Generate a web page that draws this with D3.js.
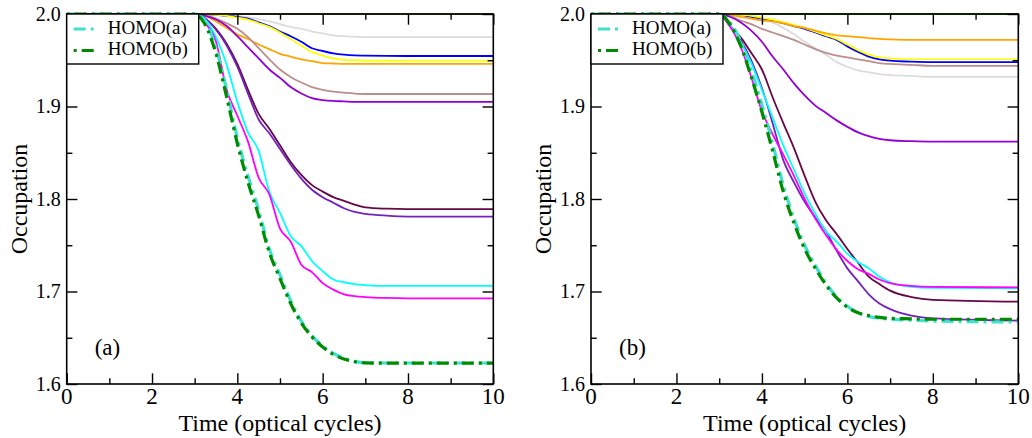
<!DOCTYPE html>
<html>
<head>
<meta charset="utf-8">
<script src="https://cdn.jsdelivr.net/npm/d3@7"></script>
<style>
  body { margin: 0; background: #fff; }
  svg { display: block; }
</style>
</head>
<body>
<svg id="chart" width="1032" height="438" font-family="'Liberation Serif', 'Times New Roman', Times, 'DejaVu Serif', serif"></svg>
<script>
// Sampling times (optical cycles) shared by every occupation curve
const time = [0, 3, 3.25, 3.5, 3.75, 4, 4.25, 4.5, 4.75, 5, 5.25, 5.5, 5.75, 6, 6.25, 6.5, 6.75, 7, 7.5, 8, 10];

const xTicks = [0, 2, 4, 6, 8, 10];
const xMinor = [1, 3, 5, 7, 9];
const yTicks = [1.6, 1.7, 1.8, 1.9, 2.0];
const yMinor = [1.65, 1.75, 1.85, 1.95];

// ---- panel (a) ----
const aCore    = [2, 2, 2, 2, 2, 2, 2, 2, 2, 2, 2, 2, 2, 2, 2, 2, 2, 2, 2, 2, 2];
const aGrey    = [2, 2, 2.0, 1.9995, 1.999, 1.998, 1.9965, 1.9945, 1.992, 1.989, 1.986, 1.984, 1.981, 1.979, 1.977, 1.976, 1.9755, 1.975, 1.975, 1.975, 1.975];
const aBlue    = [2, 2, 2.0, 1.999, 1.998, 1.997, 1.995, 1.991, 1.987, 1.981, 1.976, 1.970, 1.963, 1.960, 1.9575, 1.956, 1.9552, 1.955, 1.9547, 1.9546, 1.9546];
const aYellow  = [2, 2, 2.0, 1.999, 1.998, 1.996, 1.994, 1.990, 1.986, 1.980, 1.973, 1.966, 1.959, 1.955, 1.952, 1.9505, 1.950, 1.9497, 1.9495, 1.9495, 1.9495];
const aOrange  = [2, 2, 1.998, 1.992, 1.985, 1.978, 1.973, 1.967, 1.962, 1.957, 1.954, 1.951, 1.949, 1.947, 1.9465, 1.946, 1.946, 1.946, 1.946, 1.946, 1.946];
const aBrown   = [2, 2, 1.999, 1.995, 1.990, 1.984, 1.975, 1.963, 1.951, 1.940, 1.932, 1.926, 1.921, 1.918, 1.916, 1.915, 1.914, 1.9135, 1.9135, 1.9135, 1.9135];
const aViolet  = [2, 2, 1.998, 1.994, 1.987, 1.976, 1.964, 1.952, 1.940, 1.931, 1.921, 1.914, 1.909, 1.907, 1.906, 1.9055, 1.905, 1.905, 1.905, 1.905, 1.905];
const aMaroon  = [2, 2, 1.995, 1.984, 1.968, 1.946, 1.918, 1.892, 1.876, 1.858, 1.840, 1.826, 1.815, 1.808, 1.802, 1.798, 1.794, 1.791, 1.7895, 1.789, 1.789];
const aIndigo  = [2, 2, 1.995, 1.983, 1.966, 1.943, 1.914, 1.886, 1.871, 1.854, 1.837, 1.822, 1.810, 1.802, 1.796, 1.790, 1.786, 1.784, 1.782, 1.781, 1.781];
const aCyan    = [2, 2, 1.994, 1.975, 1.945, 1.905, 1.872, 1.852, 1.808, 1.785, 1.760, 1.749, 1.733, 1.722, 1.713, 1.710, 1.708, 1.707, 1.706, 1.706, 1.706];
const aMagenta = [2, 2, 1.990, 1.970, 1.918, 1.890, 1.862, 1.823, 1.805, 1.768, 1.754, 1.729, 1.721, 1.709, 1.702, 1.697, 1.695, 1.694, 1.693, 1.6926, 1.6926];
const aHomoA   = [2, 2, 1.992, 1.963, 1.918, 1.866, 1.825, 1.788, 1.746, 1.718, 1.690, 1.668, 1.652, 1.641, 1.633, 1.628, 1.6245, 1.623, 1.6227, 1.6227, 1.6227];
const aHomoB   = [2, 2, 1.988, 1.957, 1.910, 1.860, 1.818, 1.782, 1.742, 1.714, 1.687, 1.666, 1.651, 1.640, 1.632, 1.627, 1.624, 1.6228, 1.6225, 1.6225, 1.6225];

// ---- panel (b) ----
const bCore    = [2, 2, 2, 2, 2, 2, 2, 2, 2, 2, 2, 2, 2, 2, 2, 2, 2, 2, 2, 2, 2];
const bGrey    = [2, 2, 2.0, 1.999, 1.998, 1.996, 1.991, 1.985, 1.978, 1.970, 1.963, 1.956, 1.948, 1.943, 1.939, 1.937, 1.935, 1.934, 1.933, 1.932, 1.932];
const bBlue    = [2, 2, 2.0, 1.999, 1.997, 1.995, 1.993, 1.990, 1.987, 1.984, 1.980, 1.976, 1.972, 1.965, 1.959, 1.954, 1.951, 1.9495, 1.9485, 1.948, 1.948];
const bYellow  = [2, 2, 2.0, 1.999, 1.998, 1.996, 1.994, 1.991, 1.988, 1.985, 1.981, 1.977, 1.973, 1.967, 1.961, 1.956, 1.953, 1.952, 1.951, 1.951, 1.951];
const bOrange  = [2, 2, 1.999, 1.997, 1.995, 1.993, 1.992, 1.990, 1.987, 1.985, 1.982, 1.979, 1.977, 1.976, 1.975, 1.974, 1.973, 1.9725, 1.972, 1.972, 1.972];
const bBrown   = [2, 2, 1.998, 1.993, 1.989, 1.984, 1.980, 1.976, 1.972, 1.967, 1.962, 1.958, 1.955, 1.953, 1.951, 1.949, 1.947, 1.946, 1.945, 1.944, 1.944];
const bViolet  = [2, 2, 1.997, 1.991, 1.982, 1.970, 1.954, 1.940, 1.925, 1.912, 1.901, 1.893, 1.885, 1.878, 1.872, 1.868, 1.865, 1.8635, 1.8625, 1.862, 1.862];
const bMaroon  = [2, 2, 1.987, 1.975, 1.958, 1.940, 1.910, 1.882, 1.855, 1.825, 1.797, 1.777, 1.762, 1.746, 1.731, 1.716, 1.708, 1.701, 1.694, 1.691, 1.689];
const bIndigo  = [2, 2, 1.988, 1.972, 1.950, 1.920, 1.882, 1.842, 1.818, 1.797, 1.780, 1.765, 1.744, 1.725, 1.711, 1.697, 1.687, 1.681, 1.674, 1.671, 1.6685];
const bCyan    = [2, 2, 1.988, 1.970, 1.947, 1.918, 1.888, 1.858, 1.832, 1.806, 1.784, 1.765, 1.754, 1.741, 1.732, 1.725, 1.716, 1.710, 1.705, 1.704, 1.7035];
const bMagenta = [2, 2, 1.987, 1.965, 1.932, 1.895, 1.870, 1.848, 1.825, 1.800, 1.779, 1.761, 1.745, 1.733, 1.724, 1.719, 1.713, 1.709, 1.706, 1.705, 1.7045];
const bHomoA   = [2, 2, 1.991, 1.971, 1.939, 1.902, 1.860, 1.815, 1.779, 1.750, 1.728, 1.709, 1.694, 1.684, 1.677, 1.673, 1.671, 1.670, 1.669, 1.668, 1.667];
const bHomoB   = [2, 2, 1.989, 1.966, 1.932, 1.894, 1.852, 1.808, 1.774, 1.746, 1.725, 1.707, 1.693, 1.683, 1.677, 1.674, 1.672, 1.671, 1.6705, 1.670, 1.670];

const legendNames = ["HOMO(a)", "HOMO(b)"];

// Line styles (xmgrace palette)
const styles = {
  core:    { color: "#3f9a10", width: 2 },
  grey:    { color: "#dcdcdc", width: 1.8 },
  blue:    { color: "#0000ff", width: 1.8 },
  yellow:  { color: "#ffff00", width: 1.8 },
  orange:  { color: "#ffa500", width: 1.8 },
  brown:   { color: "#bc8f8f", width: 1.8 },
  violet:  { color: "#9400d3", width: 1.8 },
  maroon:  { color: "#670748", width: 1.8 },
  indigo:  { color: "#7221bc", width: 1.8 },
  cyan:    { color: "#00ffff", width: 1.8 },
  magenta: { color: "#ff00ff", width: 1.8 },
  homoA:   { color: "#40e0d0", width: 3.2, dash: "12,5,3,5" },
  homoB:   { color: "#008b00", width: 3.2, dash: "3,5,12,5" }
};

const panels = [
  { id: "a", label: "(a)", x0: 66.7, x1: 493.3, yTitleX: 27, coreColor: "#7b8d2c",
    series: { core: aCore, grey: aGrey, blue: aBlue, yellow: aYellow, orange: aOrange, brown: aBrown,
              violet: aViolet, maroon: aMaroon, indigo: aIndigo, cyan: aCyan, magenta: aMagenta,
              homoA: aHomoA, homoB: aHomoB } },
  { id: "b", label: "(b)", x0: 591, x1: 1018.3, yTitleX: 551, coreColor: "#3f9a10",
    series: { core: bCore, grey: bGrey, blue: bBlue, yellow: bYellow, orange: bOrange, brown: bBrown,
              violet: bViolet, maroon: bMaroon, indigo: bIndigo, cyan: bCyan, magenta: bMagenta,
              homoA: bHomoA, homoB: bHomoB } }
];

const yTop = 14, yBottom = 384;
const svg = d3.select("#chart");

panels.forEach(p => {
  const x = d3.scaleLinear().domain([0, 10]).range([p.x0, p.x1]);
  const y = d3.scaleLinear().domain([1.6, 2.0]).range([yBottom, yTop]);
  const g = svg.append("g").attr("class", "panel-" + p.id);

  const clipId = "clip-" + p.id;
  g.append("clipPath").attr("id", clipId).append("rect")
    .attr("x", p.x0).attr("y", yTop - 2).attr("width", p.x1 - p.x0).attr("height", yBottom - yTop + 2);

  const line = d3.line()
    .x((d, i) => x(time[i]))
    .y(d => y(d))
    .curve(d3.curveMonotoneX);

  const plot = g.append("g").attr("clip-path", `url(#${clipId})`);
  Object.keys(p.series).forEach(key => {
    const s = styles[key];
    plot.append("path")
      .datum(p.series[key])
      .attr("d", line)
      .attr("fill", "none")
      .attr("stroke", key === "core" ? p.coreColor : s.color)
      .attr("stroke-width", s.width)
      .attr("stroke-dasharray", s.dash || null)
      .attr("stroke-linejoin", "round");
  });

  // ticks on all four sides, pointing inward
  const major = 10.7, minor = 5.7;
  const tickAxis = (axisFn, scale, values, size, transform) => {
    const a = g.append("g").attr("transform", transform)
      .call(axisFn(scale).tickValues(values).tickSize(size).tickFormat(""));
    a.select(".domain").remove();
    a.selectAll("line").attr("stroke", "#000").attr("stroke-width", 1.4);
  };
  tickAxis(d3.axisBottom, x, xTicks, -major, `translate(0,${yBottom})`);
  tickAxis(d3.axisBottom, x, xMinor, -minor, `translate(0,${yBottom})`);
  tickAxis(d3.axisTop, x, xTicks, -major, `translate(0,${yTop})`);
  tickAxis(d3.axisTop, x, xMinor, -minor, `translate(0,${yTop})`);
  tickAxis(d3.axisLeft, y, yTicks, -major, `translate(${p.x0},0)`);
  tickAxis(d3.axisLeft, y, yMinor, -minor, `translate(${p.x0},0)`);
  tickAxis(d3.axisRight, y, yTicks, -major, `translate(${p.x1},0)`);
  tickAxis(d3.axisRight, y, yMinor, -minor, `translate(${p.x1},0)`);

  // frame
  g.append("rect")
    .attr("x", p.x0).attr("y", yTop)
    .attr("width", p.x1 - p.x0).attr("height", yBottom - yTop)
    .attr("fill", "none").attr("stroke", "#000").attr("stroke-width", 1.6);

  // tick labels
  g.selectAll(".xl").data(xTicks).join("text")
    .attr("x", d => x(d)).attr("y", 404)
    .attr("text-anchor", "middle").attr("font-size", 23)
    .text(d3.format("d"));
  g.selectAll(".yl").data(yTicks).join("text")
    .attr("x", p.x0 - 6).attr("y", d => y(d) + 6.7)
    .attr("text-anchor", "end").attr("font-size", 20)
    .text(d3.format(".1f"));

  // axis titles
  g.append("text")
    .attr("x", (p.x0 + p.x1) / 2).attr("y", 431)
    .attr("text-anchor", "middle").attr("font-size", 24)
    .text("Time (optical cycles)");
  g.append("text")
    .attr("transform", `translate(${p.yTitleX},${(yTop + yBottom) / 2}) rotate(-90)`)
    .attr("text-anchor", "middle").attr("font-size", 24)
    .text("Occupation");

  // panel tag
  g.append("text")
    .attr("x", p.x0 + 28).attr("y", 355)
    .attr("font-size", 23)
    .text(p.label);

  // legend
  const lg = g.append("g");
  lg.append("rect")
    .attr("x", p.x0).attr("y", yTop)
    .attr("width", 132).attr("height", 50)
    .attr("fill", "#fff").attr("stroke", "#000").attr("stroke-width", 1.4);
  ["homoA", "homoB"].forEach((key, i) => {
    const s = styles[key];
    const ly = yTop + 15 + i * 21.5;
    lg.append("line")
      .attr("x1", p.x0 + 7).attr("x2", p.x0 + 31)
      .attr("y1", ly).attr("y2", ly)
      .attr("stroke", s.color).attr("stroke-width", s.width)
      .attr("stroke-dasharray", s.dash);
    lg.append("text")
      .attr("x", p.x0 + 41).attr("y", ly + 4.5)
      .attr("font-size", 19)
      .text(legendNames[i]);
  });
});
</script>
</body>
</html>
